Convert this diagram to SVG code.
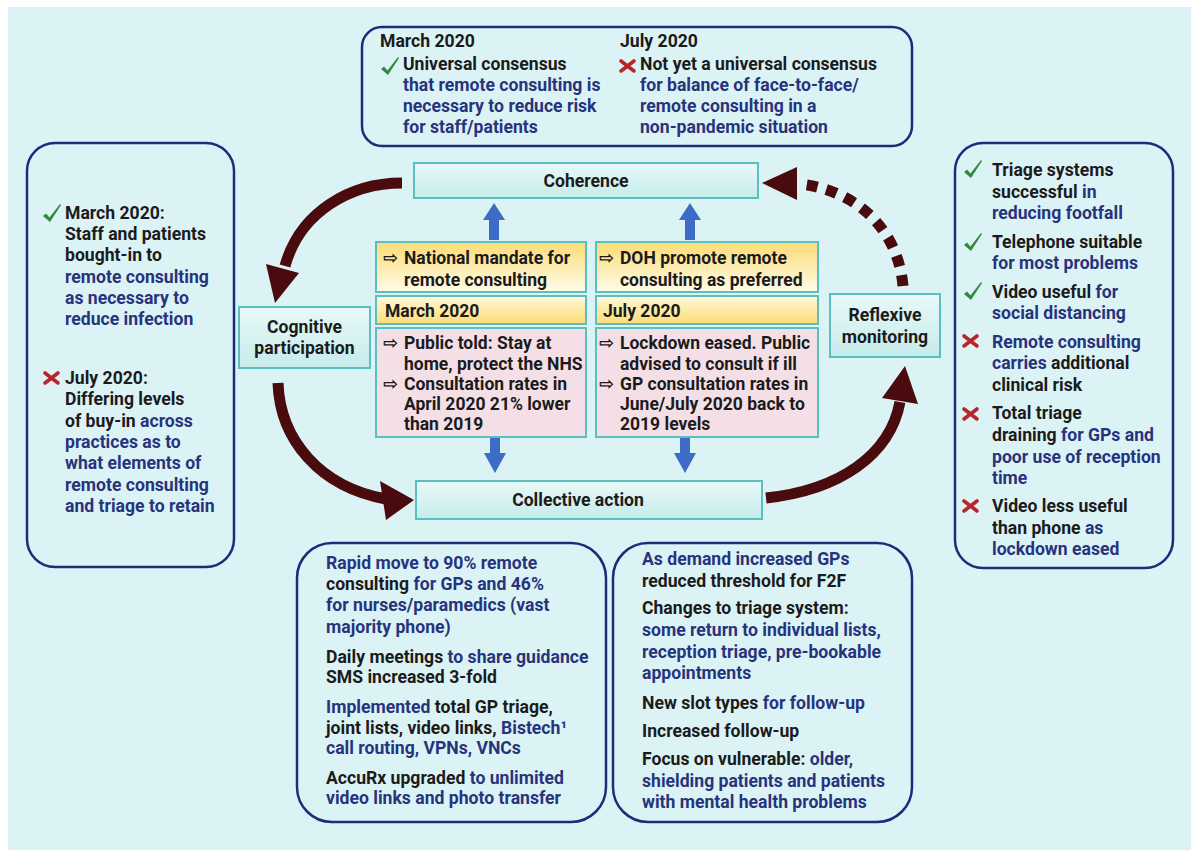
<svg xmlns="http://www.w3.org/2000/svg" width="1191" height="850" viewBox="0 0 1191 850">
<defs>
<style>
.t{font-family:Roboto,"Liberation Sans",sans-serif;font-weight:700;font-size:17.6px;fill:#1b1b1b}
.c{font-size:17.5px}
.n{fill:#27337c}
.ar{font-family:"DejaVu Sans",sans-serif;font-weight:700;font-size:18px;fill:#1b1b1b}
.big{fill:none;stroke:#1f2a78;stroke-width:2.5}
.teal{stroke:#5cbfbf;stroke-width:2}
.curve{fill:none;stroke:#4a0b0e;stroke-width:11}
.head{fill:#4a0b0e}
.blue{fill:#3d6cc6}
</style>
<linearGradient id="gTeal" x1="0" y1="0" x2="0" y2="1"><stop offset="0" stop-color="#e9f9f9"/><stop offset="1" stop-color="#c6ebeb"/></linearGradient>
<linearGradient id="gY1" x1="0" y1="0" x2="0" y2="1"><stop offset="0" stop-color="#fcdc74"/><stop offset="1" stop-color="#fffbea"/></linearGradient>
<linearGradient id="gY2" x1="0" y1="0" x2="0" y2="1"><stop offset="0" stop-color="#fff8dc"/><stop offset="1" stop-color="#fcdc74"/></linearGradient>
<path id="chk" d="M0 9 L3 6.5 L6.5 10.5 L17 -3 L18 -2 L7 15 Z" fill="#2f8b3c"/>
<path id="xm" d="M0 0 L13 10 M13 0 L0 10" stroke="#b8262b" stroke-width="3.6" stroke-linecap="round" fill="none"/>
</defs>
<rect x="0" y="0" width="1191" height="850" fill="#ffffff"/>
<rect x="8" y="7" width="1183" height="843" fill="#dcf3f6"/>

<g id="connectors">
<path class="curve" d="M402 183 C350 183 300 212 285 266"/>
<polygon class="head" points="266,264 299,273 275,303"/>
<path class="curve" d="M278 383 C280 440 320 487 386 499"/>
<polygon class="head" points="380,481 386,520 414,500"/>
<path class="curve" d="M766 498 C840 490 890 455 900 402"/>
<polygon class="head" points="882,398 918,404 905,366"/>
<path class="curve" d="M903 286 C898 228 855 190 800 184" stroke-dasharray="11 9" stroke-width="12"/>
<polygon class="head" points="797,167 797,200 762,183"/>
<polygon class="blue" points="494,203 505,220 499,220 499,240 489,240 489,220 483,220"/>
<polygon class="blue" points="690,203 701,220 695,220 695,240 685,240 685,220 679,220"/>
<polygon class="blue" points="490,438 500,438 500,453 506,453 495,473 484,453 490,453"/>
<polygon class="blue" points="680,438 690,438 690,453 696,453 685,473 674,453 680,453"/>
</g>

<g id="top-box">
<rect class="big" x="362" y="27" width="550" height="119" rx="20"/>
<text class="t" x="380" y="47">March 2020</text>
<text class="t" x="620" y="47">July 2020</text>
<use href="#chk" x="381" y="60"/>
<use href="#xm" x="621" y="61"/>
<text class="t" x="403" y="70">Universal consensus</text>
<text class="t n" x="403" y="91">that remote consulting is</text>
<text class="t n" x="403" y="112">necessary to reduce risk</text>
<text class="t n" x="403" y="133">for staff/patients</text>
<text class="t" x="640" y="70">Not yet a universal consensus</text>
<text class="t n" x="640" y="91">for balance of face-to-face/</text>
<text class="t n" x="640" y="112">remote consulting in a</text>
<text class="t n" x="640" y="133">non-pandemic situation</text>
</g>

<g id="left-box">
<rect class="big" x="27" y="143" width="207" height="424" rx="28"/>
<use href="#chk" x="43" y="207"/>
<text class="t" x="65" y="219">March 2020:</text>
<text class="t" x="65" y="240">Staff and patients</text>
<text class="t" x="65" y="261">bought-in to</text>
<text class="t n" x="65" y="283">remote consulting</text>
<text class="t n" x="65" y="304">as necessary to</text>
<text class="t n" x="65" y="325">reduce infection</text>
<use href="#xm" x="45" y="373"/>
<text class="t" x="65" y="384">July 2020:</text>
<text class="t" x="65" y="405">Differing levels</text>
<text class="t" x="65" y="427">of buy-in<tspan class="n"> across</tspan></text>
<text class="t n" x="65" y="448">practices as to</text>
<text class="t n" x="65" y="469">what elements of</text>
<text class="t n" x="65" y="491">remote consulting</text>
<text class="t n" x="65" y="512">and triage to retain</text>
</g>

<g id="right-box">
<rect class="big" x="955" y="143" width="218" height="425" rx="28"/>
<use href="#chk" x="964" y="163"/>
<use href="#chk" x="964" y="236"/>
<use href="#chk" x="964" y="285"/>
<use href="#xm" x="964" y="336"/>
<use href="#xm" x="964" y="409"/>
<use href="#xm" x="964" y="501"/>
<text class="t" x="992" y="176">Triage systems</text>
<text class="t" x="992" y="198">successful<tspan class="n"> in</tspan></text>
<text class="t n" x="992" y="219">reducing footfall</text>
<text class="t" x="992" y="248">Telephone suitable</text>
<text class="t n" x="992" y="269">for most problems</text>
<text class="t" x="992" y="298">Video useful<tspan class="n"> for</tspan></text>
<text class="t n" x="992" y="319">social distancing</text>
<text class="t n" x="992" y="348">Remote consulting</text>
<text class="t n" x="992" y="369">carries<tspan fill="#1b1b1b"> additional</tspan></text>
<text class="t" x="992" y="391">clinical risk</text>
<text class="t" x="992" y="419">Total triage</text>
<text class="t" x="992" y="441">draining<tspan class="n"> for GPs and</tspan></text>
<text class="t n" x="992" y="463">poor use of reception</text>
<text class="t n" x="992" y="484">time</text>
<text class="t" x="992" y="512">Video less useful</text>
<text class="t" x="992" y="534">than phone<tspan class="n"> as</tspan></text>
<text class="t n" x="992" y="555">lockdown eased</text>
</g>

<g id="coherence">
<rect class="teal" x="414" y="163" width="344" height="35" fill="url(#gTeal)"/>
<text class="t" x="586" y="187" text-anchor="middle">Coherence</text>
</g>

<g id="collective-action">
<rect class="teal" x="416" y="481" width="346" height="38" fill="url(#gTeal)"/>
<text class="t" x="578" y="506" text-anchor="middle">Collective action</text>
</g>

<g id="cognitive-participation">
<rect class="teal" x="239" y="307" width="131" height="61" fill="url(#gTeal)"/>
<text class="t" x="304.5" y="333" text-anchor="middle">Cognitive</text>
<text class="t" x="304.5" y="354" text-anchor="middle">participation</text>
</g>

<g id="reflexive-monitoring">
<rect class="teal" x="830" y="294" width="110" height="63" fill="url(#gTeal)"/>
<text class="t" x="885" y="321" text-anchor="middle">Reflexive</text>
<text class="t" x="885" y="343" text-anchor="middle">monitoring</text>
</g>

<g id="march-column">
<rect class="teal" x="376" y="242" width="210" height="50" fill="url(#gY1)"/>
<rect class="teal" x="376" y="296" width="210" height="28" fill="url(#gY2)"/>
<rect class="teal" x="376" y="328" width="210" height="109" fill="#f5dfe6"/>
<text class="ar" x="383" y="264">⇨</text>
<text class="t c" x="404" y="264">National mandate for</text>
<text class="t c" x="404" y="286">remote consulting</text>
<text class="t c" x="385" y="317">March 2020</text>
<text class="ar" x="383" y="349">⇨</text>
<text class="t c" x="404" y="349">Public told: Stay at</text>
<text class="t c" x="404" y="370">home, protect the NHS</text>
<text class="ar" x="383" y="390">⇨</text>
<text class="t c" x="404" y="390">Consultation rates in</text>
<text class="t c" x="404" y="410">April 2020 21% lower</text>
<text class="t c" x="404" y="430">than 2019</text>
</g>

<g id="july-column">
<rect class="teal" x="596" y="242" width="222" height="50" fill="url(#gY1)"/>
<rect class="teal" x="596" y="296" width="222" height="28" fill="url(#gY2)"/>
<rect class="teal" x="596" y="328" width="222" height="109" fill="#f5dfe6"/>
<text class="ar" x="599" y="264">⇨</text>
<text class="t c" x="620" y="264">DOH promote remote</text>
<text class="t c" x="620" y="286">consulting as preferred</text>
<text class="t c" x="603" y="317">July 2020</text>
<text class="ar" x="599" y="349">⇨</text>
<text class="t c" x="620" y="349">Lockdown eased. Public</text>
<text class="t c" x="620" y="370">advised to consult if ill</text>
<text class="ar" x="599" y="390">⇨</text>
<text class="t c" x="620" y="390">GP consultation rates in</text>
<text class="t c" x="620" y="410">June/July 2020 back to</text>
<text class="t c" x="620" y="430">2019 levels</text>
</g>

<g id="bottom-left-box">
<rect class="big" x="297" y="543" width="309" height="279" rx="35"/>
<text class="t n" x="326" y="569">Rapid move to 90% remote</text>
<text class="t" x="326" y="590">consulting<tspan class="n"> for GPs and 46%</tspan></text>
<text class="t n" x="326" y="611">for nurses/paramedics (vast</text>
<text class="t n" x="326" y="633">majority phone)</text>
<text class="t" x="326" y="663">Daily meetings<tspan class="n"> to share guidance</tspan></text>
<text class="t" x="326" y="683">SMS increased 3-fold</text>
<text class="t n" x="326" y="713">Implemented<tspan fill="#1b1b1b"> total GP triage,</tspan></text>
<text class="t" x="326" y="734">joint lists, video links,<tspan class="n"> Bistech¹</tspan></text>
<text class="t n" x="326" y="754">call routing, VPNs, VNCs</text>
<text class="t" x="326" y="784">AccuRx upgraded<tspan class="n"> to unlimited</tspan></text>
<text class="t n" x="326" y="804">video links and photo transfer</text>
</g>

<g id="bottom-right-box">
<rect class="big" x="613" y="543" width="299" height="279" rx="35"/>
<text class="t n" x="642" y="565">As demand increased GPs</text>
<text class="t" x="642" y="587">reduced threshold for F2F</text>
<text class="t" x="642" y="614">Changes to triage system:</text>
<text class="t n" x="642" y="636">some return to individual lists,</text>
<text class="t n" x="642" y="658">reception triage, pre-bookable</text>
<text class="t n" x="642" y="679">appointments</text>
<text class="t" x="642" y="709">New slot types<tspan class="n"> for follow-up</tspan></text>
<text class="t" x="642" y="737">Increased follow-up</text>
<text class="t" x="642" y="765">Focus on vulnerable:<tspan class="n"> older,</tspan></text>
<text class="t n" x="642" y="787">shielding patients and patients</text>
<text class="t n" x="642" y="808">with mental health problems</text>
</g>
</svg>
